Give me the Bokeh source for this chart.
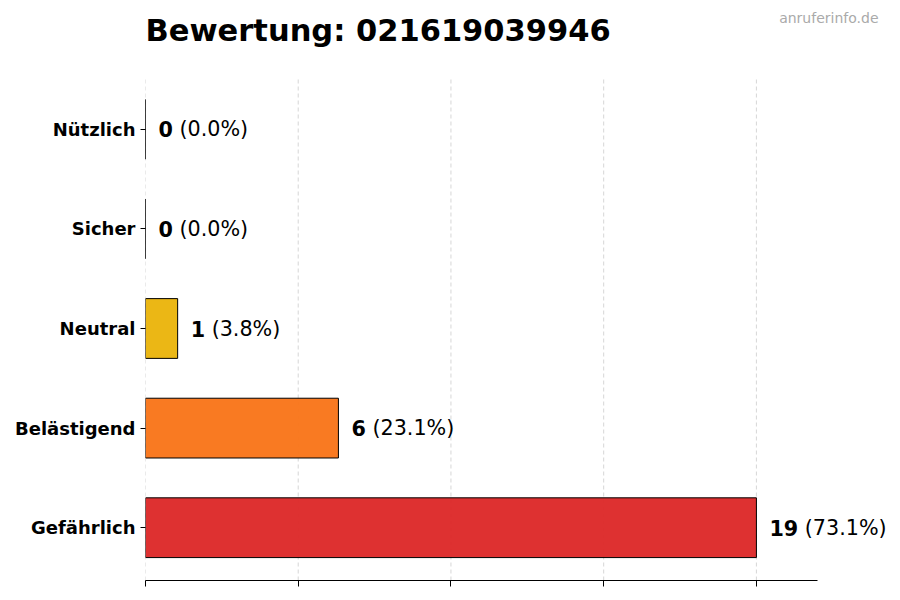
from bokeh.plotting import figure
from bokeh.models import Range1d, FixedTicker, Label, LabelSet, ColumnDataSource
from bokeh.core.properties import value
from bokeh.embed import file_html
from bokeh.resources import INLINE

categories = ["Nützlich", "Sicher", "Neutral", "Belästigend", "Gefährlich"]
counts = [0, 0, 1, 6, 19]
percents = [0.0, 0.0, 3.8, 23.1, 73.1]
colors = ["#16A34A", "#2563EB", "#EAB308", "#F97316", "#DC2626"]
x_ticks = [0, 4.75, 9.5, 14.25, 19]
title_text = "Bewertung: 021619039946"
watermark = "anruferinfo.de"

FONT = "DejaVu Sans"
VAL_SIZE = 20.7
W, H = 900, 600
LEFT, BOTTOM = 145, 20          # axis panels
AX_RIGHT_PX, AX_TOP_PX = 817, 76  # where the drawn axes area ends

n = len(categories)
ypos = list(range(n - 1, -1, -1))          # top category first
y_lo = -0.3 - 0.05 * (n - 1 + 0.6)
y_hi_axes = (n - 1) + 0.3 + 0.05 * (n - 1 + 0.6)
x_hi_axes = max(counts) * 1.1

frame_w = W - LEFT
frame_h = H - BOTTOM
ax_h_px = frame_h - AX_TOP_PX
y_hi = y_lo + (y_hi_axes - y_lo) * frame_h / ax_h_px
x_hi = x_hi_axes * frame_w / (AX_RIGHT_PX - LEFT)

num_txt = [str(c) for c in counts]
pct_txt = ["(%.1f%%)" % p for p in percents]
pct_off = [13 + len(s) * 0.696 * VAL_SIZE + 0.318 * VAL_SIZE for s in num_txt]

src = ColumnDataSource(dict(y=ypos, cnt=counts, col=colors,
                            num=num_txt, pct=pct_txt, off=pct_off))

p = figure(width=W, height=H, output_backend="svg", toolbar_location=None,
           x_range=Range1d(0, x_hi), y_range=Range1d(y_lo, y_hi),
           min_border_left=LEFT, min_border_right=0, min_border_top=0,
           min_border_bottom=BOTTOM)

p.outline_line_color = None
p.background_fill_color = "white"
p.xgrid.grid_line_color = None
p.ygrid.grid_line_color = None

# dashed vertical grid lines limited to the axes area
p.segment(x0=x_ticks, x1=x_ticks, y0=[y_lo] * len(x_ticks),
          y1=[y_hi_axes] * len(x_ticks), line_color="#cccccc",
          line_dash="4 3", line_width=0.8)

p.hbar(y="y", left=0, right="cnt", height=0.6, source=src,
       fill_color="col", fill_alpha=0.95, line_color="black", line_width=1)

p.add_layout(LabelSet(x="cnt", y="y", text="num", source=src, x_offset=13,
                      text_font=value(FONT), text_font_size=f"{VAL_SIZE}px",
                      text_font_style="bold", text_baseline="middle",
                      text_align="left", text_color="black"))
p.add_layout(LabelSet(x="cnt", y="y", text="pct", source=src, x_offset="off",
                      text_font=value(FONT), text_font_size=f"{VAL_SIZE}px",
                      text_baseline="middle", text_align="left",
                      text_color="black"))

xa = p.xaxis[0]
xa.ticker = FixedTicker(ticks=x_ticks)
xa.bounds = (0, x_hi_axes)
xa.major_label_overrides = {t: "" for t in x_ticks}
xa.major_label_standoff = 0
xa.major_tick_out = 6
xa.major_tick_in = 0
xa.minor_tick_line_color = None
xa.axis_line_color = "black"
xa.major_tick_line_color = "black"

ya = p.yaxis[0]
ya.ticker = FixedTicker(ticks=ypos)
ya.major_label_overrides = {y: c for y, c in zip(ypos, categories)}
ya.axis_line_color = None
ya.minor_tick_line_color = None
ya.major_tick_out = 5
ya.major_tick_in = 0
ya.major_tick_line_color = "black"
ya.major_label_text_font = FONT
ya.major_label_text_font_size = "18px"
ya.major_label_text_font_style = "bold"
ya.major_label_text_color = "black"
ya.major_label_standoff = 5

p.add_layout(Label(x=145, y=30, x_units="canvas", y_units="canvas",
                   text=title_text, text_font=FONT, text_font_size="30.5px",
                   text_font_style="bold", text_color="black",
                   text_align="left", text_baseline="middle"))
p.add_layout(Label(x=878, y=17, x_units="canvas", y_units="canvas",
                   text=watermark, text_font=FONT, text_font_size="14px",
                   text_color="#aaaaaa", text_align="right",
                   text_baseline="middle"))

open("out.html", "w").write(file_html(p, INLINE))
